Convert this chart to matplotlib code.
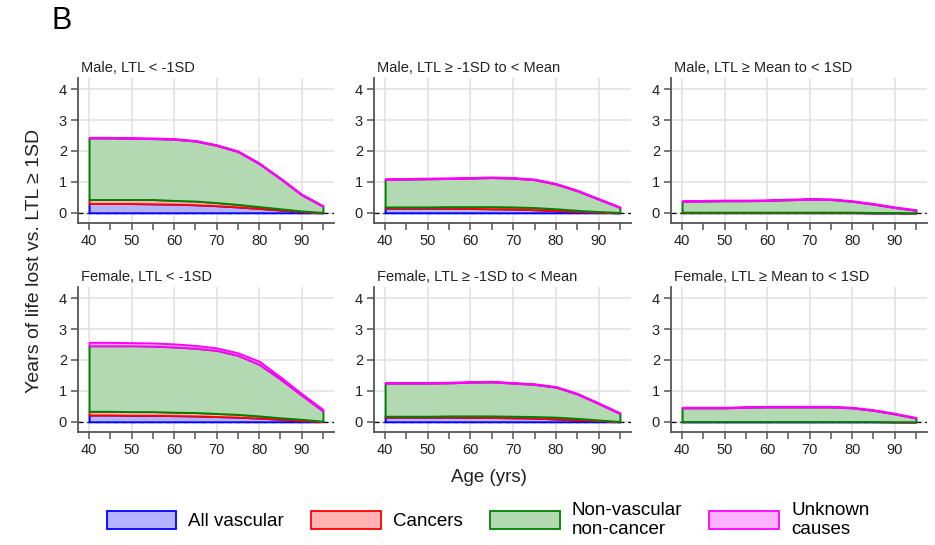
import numpy as np
import matplotlib
matplotlib.use("Agg")
import matplotlib.pyplot as plt
from matplotlib.patches import Patch

plt.rcParams['font.family'] = ['Liberation Sans', 'DejaVu Sans']

ages = [40, 45, 50, 55, 60, 65, 70, 75, 80, 85, 90, 95]

# years of life lost per cause, one set per panel
m1_vasc = [0.30, 0.30, 0.30, 0.29, 0.28, 0.26, 0.23, 0.19, 0.14, 0.09, 0.04, 0.00]
m1_canc = [0.13, 0.13, 0.13, 0.14, 0.12, 0.12, 0.10, 0.08, 0.06, 0.04, 0.02, 0.01]
m1_nvnc = [1.99, 1.99, 1.98, 1.97, 1.98, 1.94, 1.85, 1.71, 1.39, 0.97, 0.52, 0.20]
m1_unk = [0.02] * 12

m2_vasc = [0.15, 0.15, 0.15, 0.15, 0.14, 0.13, 0.12, 0.10, 0.07, 0.04, 0.02, 0.00]
m2_canc = [0.04, 0.04, 0.04, 0.05, 0.06, 0.07, 0.07, 0.07, 0.06, 0.04, 0.02, 0.01]
m2_nvnc = [0.89, 0.90, 0.91, 0.91, 0.92, 0.94, 0.93, 0.90, 0.80, 0.63, 0.40, 0.16]
m2_unk = [0.02] * 12

m3_vasc = [0.01, 0.01, 0.01, 0.01, 0.01, 0.01, 0.01, 0.01, 0.01, 0.00, 0.00, 0.00]
m3_canc = [0.01, 0.01, 0.01, 0.01, 0.01, 0.01, 0.01, 0.01, 0.01, 0.01, 0.01, 0.00]
m3_nvnc = [0.35, 0.36, 0.37, 0.37, 0.38, 0.40, 0.42, 0.41, 0.35, 0.27, 0.16, 0.08]
m3_unk = [0.02] * 12

f1_vasc = [0.22, 0.22, 0.21, 0.21, 0.20, 0.19, 0.17, 0.15, 0.12, 0.08, 0.04, 0.01]
f1_canc = [0.12, 0.12, 0.12, 0.12, 0.11, 0.11, 0.10, 0.09, 0.07, 0.05, 0.04, 0.01]
f1_nvnc = [2.12, 2.12, 2.13, 2.12, 2.11, 2.08, 2.04, 1.91, 1.67, 1.25, 0.78, 0.33]
f1_unk = [0.11, 0.11, 0.10, 0.10, 0.10, 0.09, 0.08, 0.08, 0.10, 0.07, 0.05, 0.05]

f2_vasc = [0.15, 0.15, 0.15, 0.15, 0.14, 0.14, 0.13, 0.12, 0.09, 0.06, 0.04, 0.00]
f2_canc = [0.03, 0.03, 0.03, 0.04, 0.05, 0.05, 0.05, 0.05, 0.06, 0.05, 0.02, 0.01]
f2_nvnc = [1.07, 1.07, 1.07, 1.07, 1.09, 1.10, 1.07, 1.04, 0.97, 0.79, 0.53, 0.26]
f2_unk = [0.02] * 12

f3_vasc = [0.005] * 10 + [0.0, 0.0]
f3_canc = [0.005] * 11 + [0.0]
f3_nvnc = [0.44, 0.44, 0.44, 0.46, 0.47, 0.47, 0.47, 0.47, 0.44, 0.36, 0.25, 0.12]
f3_unk = [0.02] * 12

titles = ["Male, LTL < -1SD", "Male, LTL \u2265 -1SD to < Mean", "Male, LTL \u2265 Mean to < 1SD",
          "Female, LTL < -1SD", "Female, LTL \u2265 -1SD to < Mean", "Female, LTL \u2265 Mean to < 1SD"]
panels = [
    (m1_vasc, m1_canc, m1_nvnc, m1_unk),
    (m2_vasc, m2_canc, m2_nvnc, m2_unk),
    (m3_vasc, m3_canc, m3_nvnc, m3_unk),
    (f1_vasc, f1_canc, f1_nvnc, f1_unk),
    (f2_vasc, f2_canc, f2_nvnc, f2_unk),
    (f3_vasc, f3_canc, f3_nvnc, f3_unk),
]

causes = ["All vascular", "Cancers", "Non-vascular\nnon-cancer", "Unknown\ncauses"]
fills = ['#b3b3ff', '#ffb3b3', '#b3d9b3', '#ffb3ff']
edges = ['#0000ff', '#ff0000', '#008000', '#ff00ff']

W, H = 935, 545
fig = plt.figure(figsize=(W / 100, H / 100), dpi=100)

# axes boxes in pixels
cols = [(78, 334), (374, 631), (671, 927)]
rows = [(78, 223), (287, 432)]

spine_col = '#555555'
for i, layers in enumerate(panels):
    (x0, x1) = cols[i % 3]
    (y0, y1) = rows[i // 3]
    ax = fig.add_axes([x0 / W, 1 - y1 / H, (x1 - x0) / W, (y1 - y0) / H])

    ax.axhline(0, color='black', lw=0.9, ls=(0, (4, 3)), zorder=1)
    polys = ax.stackplot(ages, *layers, colors=fills, zorder=2)
    for p, ec in zip(polys, edges):
        p.set_edgecolor(ec)
        p.set_linewidth(1.4)

    ax.set_xlim(37.4, 97.6)
    ax.set_ylim(-0.33, 4.36)
    ax.set_xticks([40, 50, 60, 70, 80, 90])
    ax.set_xticks([45, 55, 65, 75, 85, 95], minor=True)
    ax.set_yticks([0, 1, 2, 3, 4])
    ax.grid(True, which='major', color='#e2e2e2', lw=1.2, zorder=0)
    ax.set_axisbelow(True)
    for s in ['top', 'right']:
        ax.spines[s].set_visible(False)
    for s in ['left', 'bottom']:
        ax.spines[s].set_color(spine_col)
        ax.spines[s].set_linewidth(1.3)
    ax.tick_params(which='both', direction='out', length=5, width=1.1,
                   color=spine_col, labelsize=10.5, labelcolor='#222222', pad=3)
    ax.text(0.01, 1.043, titles[i], transform=ax.transAxes, fontsize=10.5,
            ha='left', va='baseline', color='#222222')

fig.text(52 / W, 1 - 21 / H, "B", fontsize=22, ha='left', va='center')
fig.text(35 / W, 0.522, "Years of life lost vs. LTL \u2265 1SD", rotation=90,
         fontsize=14, ha='center', va='center', color='#222222')
fig.text(0.523, 1 - 477 / H, "Age (yrs)", fontsize=13.5, ha='center', va='center',
         color='#222222')

handles = [Patch(facecolor=f, edgecolor=e, lw=1.3) for f, e in zip(fills, edges)]
fig.legend(handles, causes, loc='center', bbox_to_anchor=(0.522, 1 - 520 / H), ncol=4,
           frameon=False, fontsize=13.5, handlelength=3.73, handleheight=1.07,
           handletextpad=0.64, columnspacing=1.44, labelspacing=0.0)

fig.savefig("out.png", dpi=100)
